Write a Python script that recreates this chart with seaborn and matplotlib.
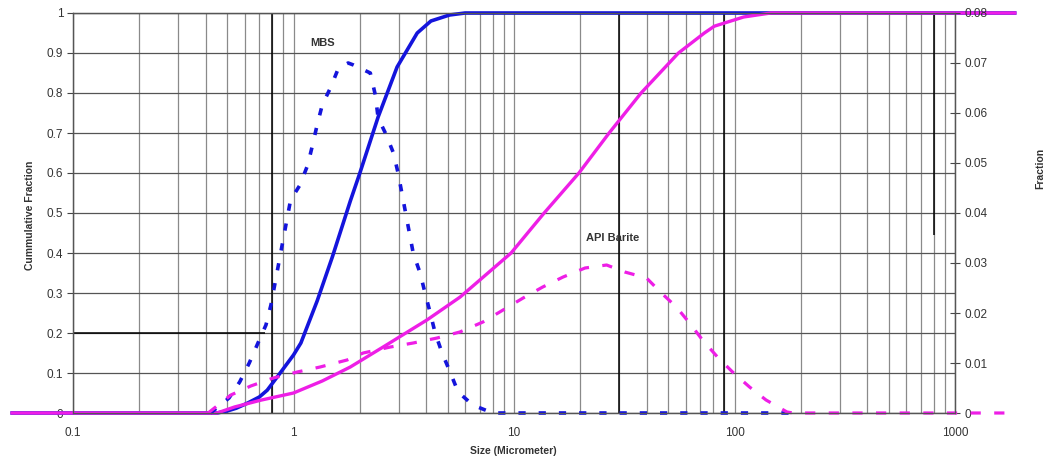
import numpy as np
import pandas as pd
import matplotlib
matplotlib.use("Agg")
import matplotlib.pyplot as plt
import matplotlib.ticker as mticker
import seaborn as sns

# ----------------------------- Data -----------------------------

# MBS cumulative fraction (left axis)
mbs_cum_size = [0.052, 0.45, 0.5, 0.55, 0.62, 0.7, 0.76, 0.87, 1.0, 1.08, 1.28, 1.5, 1.81,
                2.0, 2.42, 2.95, 3.64, 4.2, 5.1, 6.0, 1900]
mbs_cum = [0, 0, 0.005, 0.012, 0.025, 0.04, 0.057, 0.1, 0.145, 0.175, 0.28, 0.39, 0.53,
           0.6, 0.74, 0.865, 0.95, 0.98, 0.995, 1.0, 1.0]

# MBS fraction (right axis)
mbs_frac_size = [0.42, 0.51, 0.57, 0.63, 0.69, 0.75, 0.79, 0.97, 1.07, 1.16, 1.22, 1.28, 1.35,
                 1.47, 1.6, 1.77, 1.87, 2.23, 2.35, 2.42, 2.61, 2.84, 2.98, 3.1, 3.49, 3.75,
                 3.95, 4.17, 4.39, 4.72, 5.13, 5.58, 6.5, 8.0, 180]
mbs_frac = [0, 0.003, 0.0062, 0.01, 0.014, 0.0176, 0.0216, 0.0426, 0.0456, 0.0496, 0.0536,
            0.0576, 0.0616, 0.065, 0.069, 0.070, 0.0696, 0.068, 0.0636, 0.059, 0.056, 0.052,
            0.048, 0.044, 0.032, 0.028, 0.024, 0.02, 0.016, 0.012, 0.0082, 0.0042, 0.0016, 0, 0]

# API Barite cumulative fraction (left axis)
api_cum_size = [0.052, 0.45, 0.54, 0.71, 1.0, 1.35, 1.81, 2.55, 4.04, 5.7, 9.7, 13.7, 19.7, 27,
                37.7, 55.7, 73, 81, 110, 146, 1900]
api_cum = [0, 0, 0.015, 0.032, 0.05, 0.08, 0.115, 0.165, 0.233, 0.29, 0.40, 0.5, 0.6, 0.7,
           0.8, 0.9, 0.95, 0.967, 0.99, 1.0, 1.0]

# API Barite fraction (right axis)
api_frac_size = [0.41, 0.52, 0.64, 0.81, 1.04, 1.32, 1.75, 2.07, 2.75, 3.49, 4.48, 5.68, 7.23,
                 8.92, 11, 13.5, 16.7, 21, 26.3, 31.8, 39.9, 46.6, 54.5, 62.5, 71.6, 83.7,
                 98, 117, 139, 173, 185, 1900]
api_frac = [0, 0.0036, 0.0054, 0.007, 0.0082, 0.0092, 0.0106, 0.012, 0.0132, 0.014, 0.015,
            0.0162, 0.0182, 0.0206, 0.023, 0.0252, 0.0272, 0.029, 0.0296, 0.0282, 0.027,
            0.024, 0.0212, 0.018, 0.0146, 0.0112, 0.0082, 0.0052, 0.0026, 0.0002, 0, 0]

left_ticks = [0, 0.1, 0.2, 0.3, 0.4, 0.5, 0.6, 0.7, 0.8, 0.9, 1]
right_ticks = [0, 0.01, 0.02, 0.03, 0.04, 0.05, 0.06, 0.07, 0.08]
x_ticks = [0.1, 1, 10, 100, 1000]

BLUE = '#1414dc'
MAGENTA = '#ee1ee6'
TXT = '#333333'

# ----------------------------- Plot -----------------------------

sns.set_style("white")
plt.rcParams['font.family'] = ['Liberation Sans', 'DejaVu Sans']

fig = plt.figure(figsize=(10.48, 4.59), dpi=100)
ax = fig.add_axes([73 / 1048, 1 - 413 / 459, (955 - 73) / 1048, 400 / 459])
ax.set_xscale('log')
ax.set_xlim(0.1, 1000)
ax.set_ylim(0, 1)
ax2 = ax.twinx()
ax2.set_ylim(0, 0.08)

# grid
ax.xaxis.set_major_locator(mticker.FixedLocator(x_ticks))
ax.xaxis.set_minor_locator(mticker.LogLocator(base=10, subs=range(2, 10)))
ax.xaxis.set_major_formatter(mticker.FuncFormatter(lambda v, p: f"{v:g}"))
ax.xaxis.set_minor_formatter(mticker.NullFormatter())
ax.grid(True, which='both', axis='x', color='#8a8a8a', lw=0.9)
ax.grid(True, which='major', axis='y', color='#555555', lw=0.9)
ax.set_axisbelow(True)

# darker lines visible in the scanned original
for xv in [0.8, 30, 90]:
    ax.axvline(xv, color='#000000', lw=1.1, zorder=1.2)
ax.axvline(800, ymin=0.445, ymax=1, color='#000000', lw=1.1, zorder=1.2)
ax.axhline(0.2, xmin=0, xmax=0.218, color='#000000', lw=1.1, zorder=1.2)

df_mc = pd.DataFrame({'size': mbs_cum_size, 'val': mbs_cum})
df_ac = pd.DataFrame({'size': api_cum_size, 'val': api_cum})
df_mf = pd.DataFrame({'size': mbs_frac_size, 'val': mbs_frac})
df_af = pd.DataFrame({'size': api_frac_size, 'val': api_frac})

sns.lineplot(data=df_mc, x='size', y='val', ax=ax, color=BLUE, lw=2.6, clip_on=False, zorder=3)
sns.lineplot(data=df_ac, x='size', y='val', ax=ax, color=MAGENTA, lw=2.4, clip_on=False, zorder=3)
sns.lineplot(data=df_mf, x='size', y='val', ax=ax2, color=BLUE, lw=2.6, clip_on=False,
             linestyle=(0, (2.0, 3.6)))
sns.lineplot(data=df_af, x='size', y='val', ax=ax2, color=MAGENTA, lw=2.3, clip_on=False,
             linestyle=(0, (3.2, 4.2)))
for ln in ax.lines + ax2.lines:
    ln.set_solid_capstyle('butt')
    ln.set_dash_capstyle('butt')

ax.set_xlabel('')
ax.set_ylabel('')
ax2.set_ylabel('')
ax.set_xlim(0.1, 1000)

ax.set_yticks(left_ticks)
ax.yaxis.set_major_formatter(mticker.FuncFormatter(lambda v, p: f"{v:g}"))
ax2.set_yticks(right_ticks)
ax2.yaxis.set_major_formatter(mticker.FuncFormatter(lambda v, p: f"{v:g}"))

ax.tick_params(axis='y', which='major', direction='out', length=4, width=0.8,
               color='#444444', labelsize=8.5, labelcolor=TXT, pad=3, left=True)
ax.tick_params(axis='x', which='both', length=0, labelsize=8.5, labelcolor=TXT, pad=10)
ax2.tick_params(axis='y', direction='inout', length=7, width=0.8, color='#444444',
                labelsize=8.5, labelcolor=TXT, pad=3, right=True)

for a in (ax, ax2):
    for s in a.spines.values():
        s.set_color('#555555')
        s.set_linewidth(0.9)

ax.annotate('MBS', xy=(1.35, 0.925), ha='center', va='center', fontsize=8,
            fontweight='bold', color=TXT)
ax.annotate('API Barite', xy=(28, 0.4375), ha='center', va='center', fontsize=8,
            fontweight='bold', color=TXT)

fig.text(30 / 1048, 1 - 215 / 459, 'Cummulative Fraction', rotation=90, ha='center',
         va='center', fontsize=7.5, fontweight='bold', color=TXT)
fig.text(1040 / 1048, 1 - 168 / 459, 'Fraction', rotation=90, ha='center',
         va='center', fontsize=7.5, fontweight='bold', color=TXT)
fig.text(513 / 1048, 1 - 451 / 459, 'Size (Micrometer)', ha='center', va='center',
         fontsize=7.5, fontweight='bold', color=TXT)

fig.savefig('out.png', dpi=100)
